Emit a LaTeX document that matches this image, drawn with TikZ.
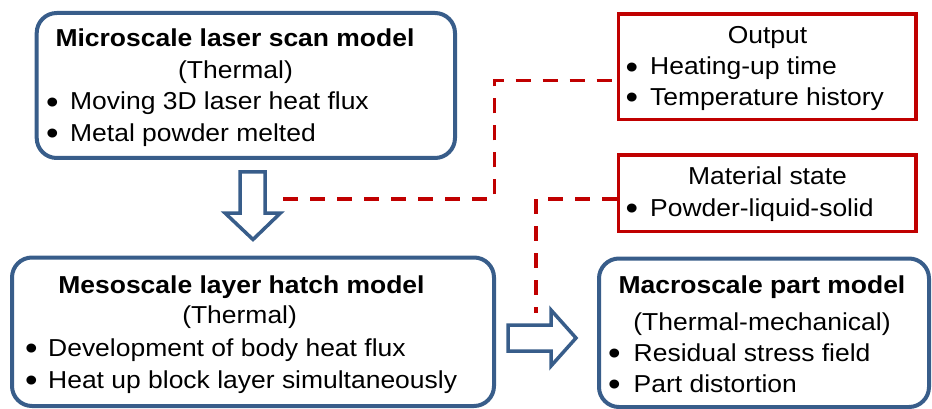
\documentclass[tikz,border=0pt]{standalone}
\usepackage{fontspec}
\setmainfont{Liberation Sans}[FakeStretch=1.08]
\definecolor{boxblue}{RGB}{56,93,138}
\definecolor{boxred}{RGB}{192,0,0}
\tikzset{
  bluebox/.style={draw=boxblue, line width=4pt, rounded corners=20pt, fill=white, inner sep=0pt},
  redbox/.style={draw=boxred, line width=3.5pt, fill=white, inner sep=0pt},
  blockarrow/.style={draw=boxblue, line width=3.5pt, fill=white, line join=miter},
  dashline/.style={draw=boxred, line width=3.3pt, dash pattern=on 15pt off 12pt},
  txt/.style={inner sep=0pt, font=\fontsize{24.5}{30}\selectfont},
  ttl/.style={inner sep=0pt, font=\fontsize{24.5}{30}\selectfont\bfseries},
  ctr/.style={txt, anchor=base},
  bul/.style={txt, anchor=base west},
}
\newcommand{\bitem}[2]{\makebox[#1][l]{\raisebox{-3.2pt}{\scalebox{1.35}{•}}}#2}
\begin{document}
\begin{tikzpicture}[x=1pt,y=-1pt]
\useasboundingbox (0,0) rectangle (932,409);
% boxes
\node[bluebox, minimum width=418.3pt, minimum height=145pt] (micro) at (245.85,85.5) {};
\node[redbox, minimum width=297.7pt, minimum height=105.5pt] (out) at (767.15,66.75) {};
\node[redbox, minimum width=297.7pt, minimum height=76.5pt] (mat) at (767.15,193.25) {};
\node[bluebox, minimum width=482pt, minimum height=148.5pt] (meso) at (253,331.75) {};
\node[bluebox, minimum width=330pt, minimum height=148.5pt] (macro) at (764,332.75) {};
% dashed connectors
\coordinate (d1) at (283,199);
\coordinate (k1) at (494.3,199);
\coordinate (k2) at (494.3,80.7);
\draw[dashline] (d1) -- (k1) -- (k2) -- (k2 -| out.west);
\coordinate (k3) at (536,199);
\coordinate (d2) at (536,313);
\draw[dashline] (k3 -| mat.west) -- (k3) -- (d2);
% block arrows
\draw[blockarrow] (240,172) -- (265,172) -- (265,213) -- (280.5,213) -- (253,239.5) -- (225,213) -- (240,213) -- cycle;
\draw[blockarrow] (508,325) -- (551,325) -- (551,310) -- (576,338) -- (551,366) -- (551,351) -- (508,351) -- cycle;
% micro text
\node[ttl, anchor=base] (microT) at (235,46.7) {Microscale laser scan model};
\node[ctr] (microS) at (235.5,78.3) {(Thermal)};
\node[bul] (microA) at (46,110) {\bitem{24pt}{Moving 3D laser heat flux}};
\node[bul] (microB) at (46,141.7) {\bitem{24pt}{Metal powder melted}};
% output text
\node[ctr] (outT) at (767.5,43.3) {Output};
\node[bul] (outA) at (625.5,75) {\bitem{24.5pt}{Heating-up time}};
\node[bul] (outB) at (625.5,105.5) {\bitem{24.5pt}{Temperature history}};
% material text
\node[ctr] (matT) at (767.5,184) {Material state};
\node[bul] (matA) at (625.5,216) {\bitem{24.5pt}{Powder-liquid-solid}};
% meso text
\node[ttl, anchor=base] (mesoT) at (241.5,293) {Mesoscale layer hatch model};
\node[ctr] (mesoS) at (239.6,323) {(Thermal)};
\node[bul] (mesoA) at (25,356) {\bitem{23pt}{Development of body heat flux}};
\node[bul] (mesoB) at (25,388) {\bitem{23pt}{Heat up block layer simultaneously}};
% macro text
\node[ttl, anchor=base] (macroT) at (762,293) {Macroscale part model};
\node[ctr] (macroS) at (762,330) {(Thermal-mechanical)};
\node[bul] (macroA) at (608,361) {\bitem{25.5pt}{Residual stress field}};
\node[bul] (macroB) at (608,392) {\bitem{25.5pt}{Part distortion}};
\end{tikzpicture}
\end{document}
